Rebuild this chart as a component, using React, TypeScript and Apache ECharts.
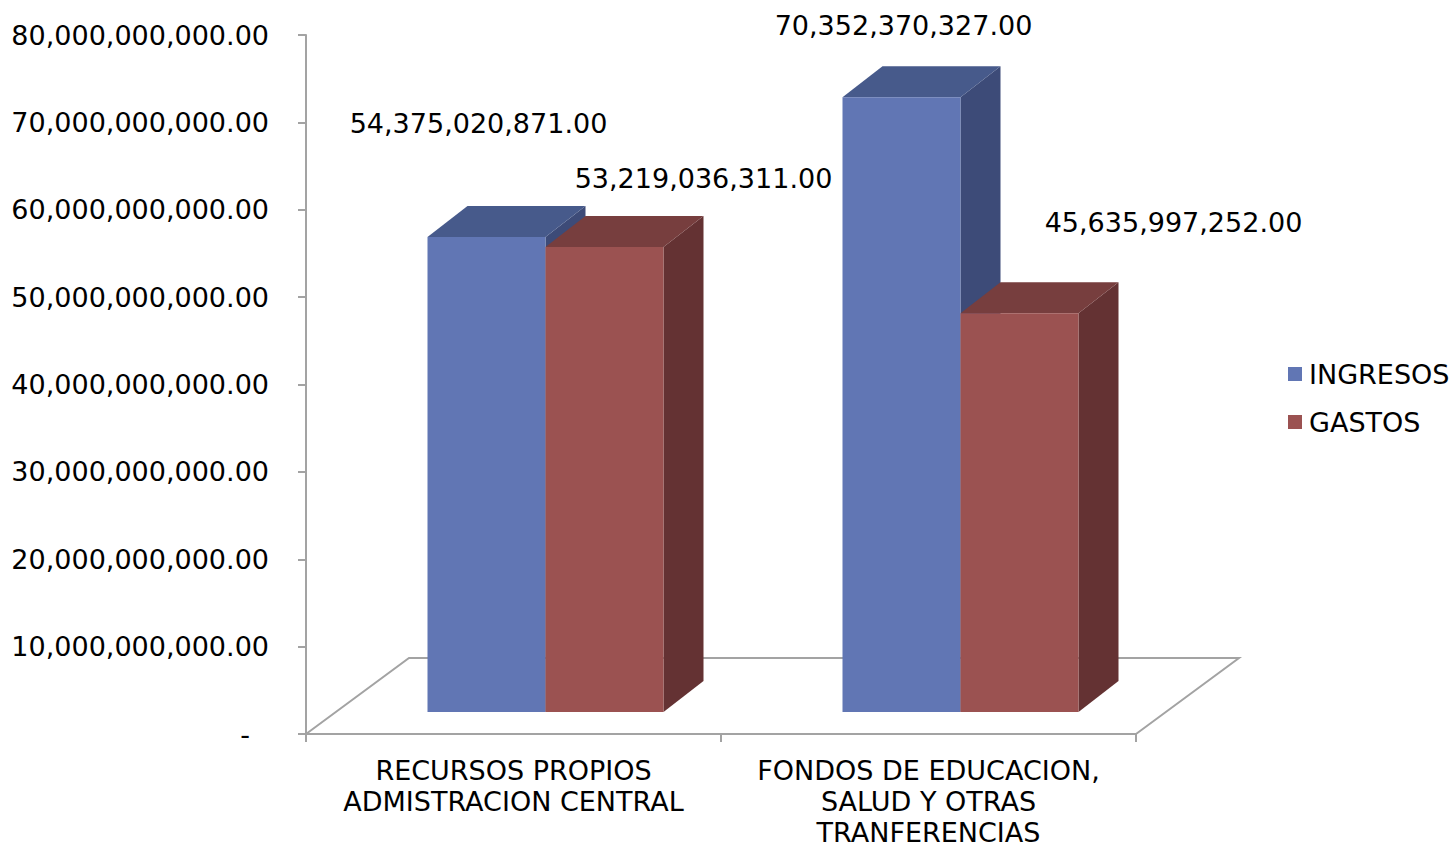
import React, { useEffect, useRef } from 'react';
import * as echarts from 'echarts';

const categories = [
  'RECURSOS PROPIOS\nADMISTRACION CENTRAL',
  'FONDOS DE EDUCACION,\nSALUD Y OTRAS\nTRANFERENCIAS',
];
const seriesNames = ['INGRESOS', 'GASTOS'];
const ingresos = [54375020871, 70352370327];
const gastos = [53219036311, 45635997252];
const yMin = 0;
const yMax = 80000000000;
const yInterval = 10000000000;

// styling / geometry (not data)
const FONT = '"DejaVu Sans", Verdana, sans-serif';
const FS = 27;
const AXIS_GRAY = '#A3A3A3';
const faceColors = [
  { front: '#6176B4', top: '#475A8B', side: '#3D4B78' },
  { front: '#9B5251', top: '#773E3E', side: '#643233' },
];
const BAR_W = 118;
const SHIFT_X = 32;
const SHIFT_Y = 22;
const DEPTH_X = 40;
const DEPTH_Y = 31;
const FLOOR_DX = 103;
const FLOOR_DY = 76;
// label offsets relative to bar front-top centre, per series per category
const labelOffsets = [
  [[-8, -113], [2, -72]],
  [[99, -68], [154, -91]],
];

function fmt(v: number) {
  return v.toLocaleString('en-US', { minimumFractionDigits: 2, maximumFractionDigits: 2 });
}

function makeBarRenderer(sIdx: number) {
  return (params: any, api: any) => {
    const i = api.value(0);
    const v = api.value(1);
    const base = api.coord([i, 0]);
    const top = api.coord([i, v]);
    const cx = base[0];
    const x0 = cx + SHIFT_X + (sIdx === 0 ? -BAR_W : 0);
    const x1 = x0 + BAR_W;
    const yb = base[1] - SHIFT_Y;
    const yt = top[1] - SHIFT_Y;
    const c = faceColors[sIdx];
    const off = labelOffsets[sIdx][i];
    return {
      type: 'group',
      children: [
        {
          type: 'polygon',
          shape: { points: [[x1, yt], [x1 + DEPTH_X, yt - DEPTH_Y], [x1 + DEPTH_X, yb - DEPTH_Y], [x1, yb]] },
          style: { fill: c.side },
        },
        {
          type: 'polygon',
          shape: { points: [[x0, yt], [x1, yt], [x1 + DEPTH_X, yt - DEPTH_Y], [x0 + DEPTH_X, yt - DEPTH_Y]] },
          style: { fill: c.top },
        },
        {
          type: 'rect',
          shape: { x: x0, y: yt, width: BAR_W, height: yb - yt },
          style: { fill: c.front },
        },
        {
          type: 'text',
          z2: 100,
          style: {
            text: fmt(v),
            x: (x0 + x1) / 2 + off[0],
            y: yt + off[1],
            fill: '#000',
            fontSize: FS,
            fontFamily: FONT,
            align: 'center',
            verticalAlign: 'middle',
          },
        },
      ],
    };
  };
}

function floorRenderer(params: any, api: any) {
  const cs = params.coordSys;
  const x = cs.x, y = cs.y + cs.height, w = cs.width;
  return {
    type: 'polyline',
    shape: {
      points: [
        [x, y],
        [x + FLOOR_DX, y - FLOOR_DY],
        [x + w + FLOOR_DX, y - FLOOR_DY],
        [x + w, y],
      ],
    },
    style: { stroke: AXIS_GRAY, lineWidth: 2, fill: 'none' },
  };
}

export default function App() {
  const ref = useRef<HTMLDivElement>(null);
  useEffect(() => {
    if (!ref.current) return;
    const chart = echarts.init(ref.current, undefined, { renderer: 'svg' });
    const seriesData = [ingresos, gastos];
    chart.setOption({
      animation: false,
      backgroundColor: '#fff',
      textStyle: { fontFamily: FONT },
      grid: { left: 306, right: 319, top: 35, bottom: 111, containLabel: false },
      legend: {
        data: seriesNames,
        orient: 'vertical',
        left: 1288,
        top: 359,
        padding: 0,
        icon: 'rect',
        itemWidth: 14,
        itemHeight: 14,
        itemGap: 18,
        textStyle: { fontSize: FS, fontFamily: FONT, color: '#000', lineHeight: 30, padding: [0, 0, 0, 2] },
        selectedMode: false,
      },
      xAxis: {
        type: 'category',
        data: categories,
        boundaryGap: true,
        axisLine: { show: true, lineStyle: { color: AXIS_GRAY, width: 2 } },
        axisTick: { show: true, length: 8, lineStyle: { color: AXIS_GRAY, width: 2 }, alignWithLabel: false },
        axisLabel: {
          interval: 0,
          margin: 21,
          fontSize: FS,
          fontFamily: FONT,
          color: '#000',
          lineHeight: 31,
          align: 'center',
        },
        splitLine: { show: false },
      },
      yAxis: {
        type: 'value',
        min: yMin,
        max: yMax,
        interval: yInterval,
        axisLine: { show: true, lineStyle: { color: AXIS_GRAY, width: 2 } },
        axisTick: { show: true, length: 8, lineStyle: { color: AXIS_GRAY, width: 2 } },
        splitLine: { show: false },
        axisLabel: {
          margin: 37,
          fontSize: FS,
          fontFamily: FONT,
          color: '#000',
          formatter: (v: number) => (v === 0 ? '{d|-}' : fmt(v)),
          rich: { d: { fontSize: FS, fontFamily: FONT, color: '#000', padding: [0, 19, 0, 0] } },
        },
      },
      series: [
        {
          type: 'custom',
          name: 'floor',
          silent: true,
          renderItem: floorRenderer,
          data: [[0, 0]],
          encode: { x: 0, y: 1 },
          z: 1,
        },
        ...seriesNames.map((name, sIdx) => ({
          type: 'custom',
          name,
          renderItem: makeBarRenderer(sIdx),
          itemStyle: { color: faceColors[sIdx].front },
          data: seriesData[sIdx].map((v, i) => [i, v]),
          encode: { x: 0, y: 1 },
          z: 2 + sIdx,
          clip: false,
        })),
      ],
    });
    return () => chart.dispose();
  }, []);
  return <div ref={ref} style={{ position: 'fixed', left: 0, top: 0, width: 1455, height: 848 }} />;
}
